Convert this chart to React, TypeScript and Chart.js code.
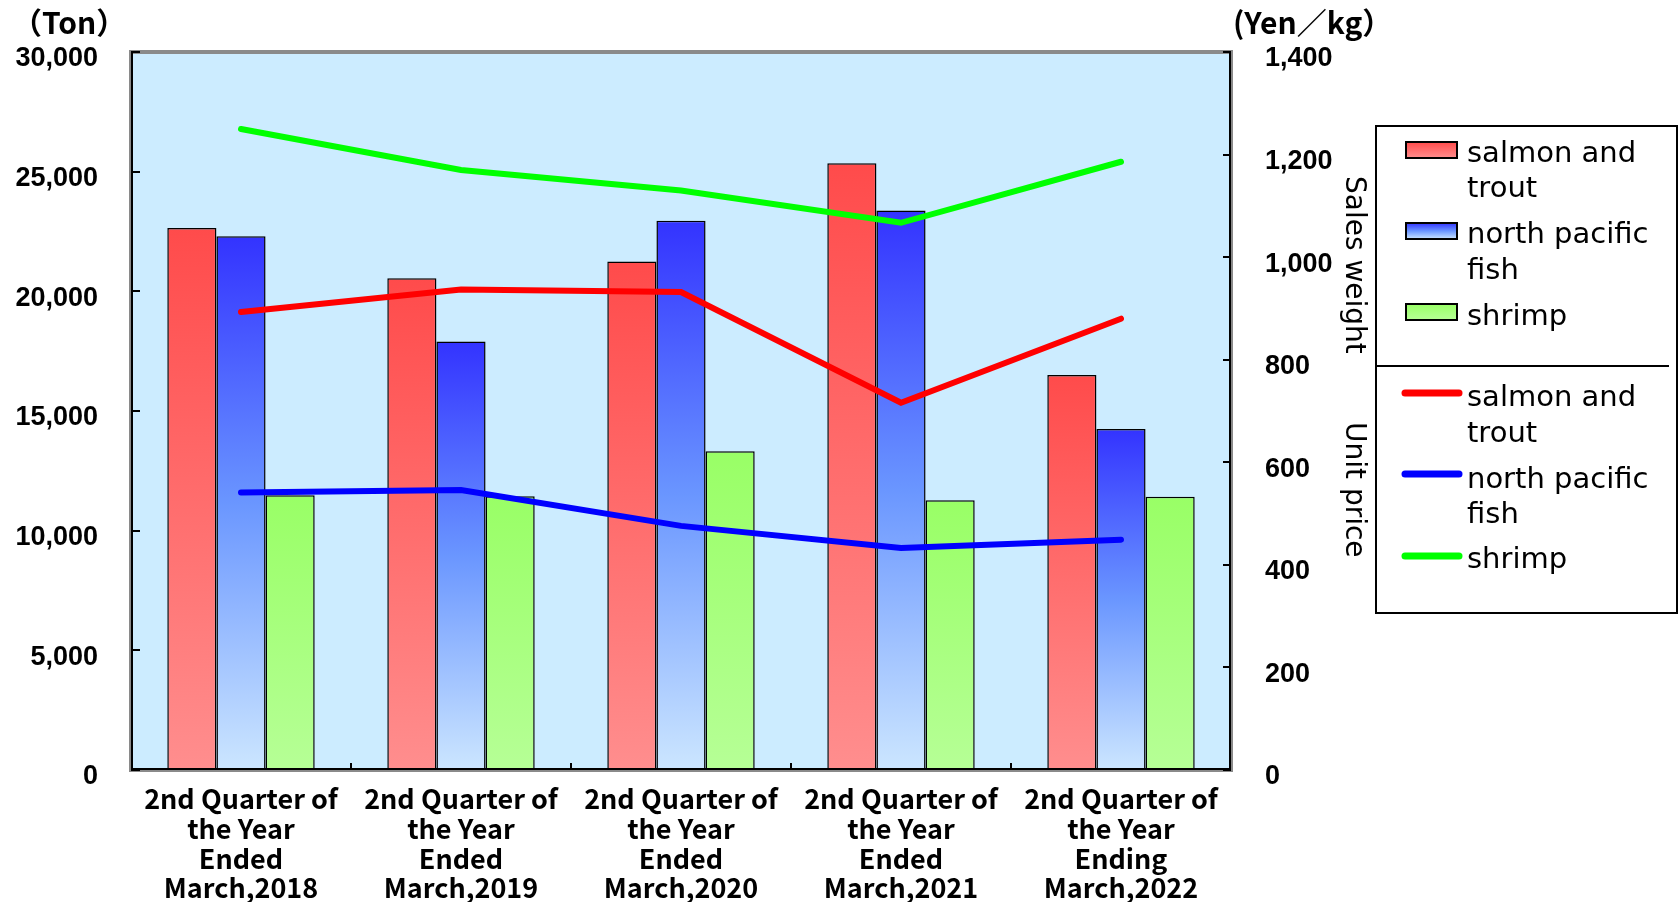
import React, { useEffect, useRef } from "react";
import { Chart, registerables } from "chart.js";
Chart.register(...registerables);

const categories: string[][] = [
  ["2nd Quarter of", "the Year", "Ended", "March,2018"],
  ["2nd Quarter of", "the Year", "Ended", "March,2019"],
  ["2nd Quarter of", "the Year", "Ended", "March,2020"],
  ["2nd Quarter of", "the Year", "Ended", "March,2021"],
  ["2nd Quarter of", "the Year", "Ending", "March,2022"],
];
const seriesNames = ["salmon and trout", "north pacific fish", "shrimp"];
const legendLines: string[][] = [["salmon and", "trout"], ["north pacific", "fish"], ["shrimp"]];

// Sales weight (Ton) - bars, left axis
const weightSalmon = [22650, 20550, 21250, 25350, 16500];
const weightNorthPacific = [22300, 17900, 22950, 23380, 14250];
const weightShrimp = [11480, 11440, 13320, 11270, 11420];

// Unit price (Yen/kg) - lines, right axis
const priceSalmon = [893, 937, 932, 716, 880];
const priceNorthPacific = [541, 546, 476, 433, 449];
const priceShrimp = [1250, 1170, 1130, 1067, 1186];

const leftAxisTitle = "（Ton）";
const rightAxisTitle = "(Yen／kg）";
const rightLabelA = "Sales weight";
const rightLabelB = "Unit price";

const redStops: [number, string][] = [[0, "#FF4B4B"], [1, "#FF8E8E"]];
const blueStops: [number, string][] = [[0, "#3333FF"], [0.5, "#6A96FF"], [1, "#CCE6FF"]];
const greenStops: [number, string][] = [[0, "#99FF66"], [1, "#B6FF96"]];
const lineColors = ["#FF0000", "#0000FF", "#00FF00"];

function barGradient(stops: [number, string][]) {
  return (c: any) => {
    const chart = c.chart;
    if (!chart.chartArea || c.type !== "data") return stops[0][1];
    const y = chart.scales.y;
    const top = y.getPixelForValue(c.raw as number);
    const bottom = y.getPixelForValue(0);
    const g = chart.ctx.createLinearGradient(0, top, 0, bottom);
    stops.forEach(([o, col]) => g.addColorStop(o, col));
    return g;
  };
}

const decorPlugin = {
  id: "decor",
  beforeDraw(chart: any) {
    const { ctx, chartArea: a } = chart;
    ctx.save();
    ctx.fillStyle = "#CCECFF";
    ctx.fillRect(a.left, a.top, a.right - a.left, a.bottom - a.top);
    ctx.restore();
  },
  afterDatasetsDraw(chart: any) {
    const { ctx, chartArea: a } = chart;
    ctx.save();
    ctx.strokeStyle = "#8A8A8A";
    ctx.lineWidth = 4;
    ctx.strokeRect(a.left, a.top, a.right - a.left, a.bottom - a.top);
    ctx.strokeStyle = "#000";
    ctx.lineWidth = 2;
    ctx.beginPath();
    ctx.moveTo(a.left + 1, a.top);
    ctx.lineTo(a.left + 1, a.bottom - 1);
    ctx.lineTo(a.right - 1, a.bottom - 1);
    ctx.lineTo(a.right - 1, a.top);
    ctx.stroke();
    const y = chart.scales.y;
    const y1 = chart.scales.y1;
    ctx.lineWidth = 2;
    ctx.beginPath();
    y.ticks.forEach((t: any) => {
      const py = Math.round(y.getPixelForValue(t.value));
      ctx.moveTo(a.left, py);
      ctx.lineTo(a.left + 9, py);
    });
    y1.ticks.forEach((t: any) => {
      const py = Math.round(y1.getPixelForValue(t.value));
      ctx.moveTo(a.right - 8, py);
      ctx.lineTo(a.right, py);
    });
    const n = categories.length;
    const cw = (a.right - a.left) / n;
    for (let i = 1; i < n; i++) {
      const px = Math.round(a.left + i * cw);
      ctx.moveTo(px, a.bottom);
      ctx.lineTo(px, a.bottom - 7);
    }
    ctx.stroke();
    ctx.restore();
  },
  afterDraw(chart: any) {
    const { ctx } = chart;
    ctx.save();
    ctx.fillStyle = "#000";
    ctx.font = "bold 30px 'Noto Sans CJK JP'";
    ctx.textBaseline = "middle";
    ctx.textAlign = "left";
    ctx.fillText(leftAxisTitle, 12, 23);
    ctx.fillText(rightAxisTitle, 1233, 23);
    ctx.font = "28px 'DejaVu Sans'";
    ctx.save();
    ctx.translate(1353, 176);
    ctx.rotate(Math.PI / 2);
    ctx.fillText(rightLabelA, 0, 0);
    ctx.restore();
    ctx.save();
    ctx.translate(1353, 422);
    ctx.rotate(Math.PI / 2);
    ctx.fillText(rightLabelB, 0, 0);
    ctx.restore();

    // legend box
    ctx.fillStyle = "#FFFFFF";
    ctx.fillRect(1376, 126, 301, 487);
    ctx.strokeStyle = "#000";
    ctx.lineWidth = 2;
    ctx.strokeRect(1376, 126, 301, 487);
    ctx.beginPath();
    ctx.moveTo(1376, 366);
    ctx.lineTo(1669, 366);
    ctx.stroke();

    const boxTops = [142, 223, 304];
    const stopsArr = [redStops, blueStops, greenStops];
    const barBaselines = [[162, 197], [243, 279], [325]];
    stopsArr.forEach((stops, i) => {
      const t = boxTops[i];
      const g = ctx.createLinearGradient(0, t, 0, t + 16);
      stops.forEach(([o, c]) => g.addColorStop(o, c));
      ctx.fillStyle = g;
      ctx.fillRect(1406, t, 51, 16);
      ctx.strokeStyle = "#000";
      ctx.lineWidth = 2;
      ctx.strokeRect(1406, t, 51, 16);
    });
    ctx.fillStyle = "#000";
    ctx.font = "29px 'DejaVu Sans'";
    ctx.textBaseline = "alphabetic";
    legendLines.forEach((lines, i) => {
      lines.forEach((s, j) => ctx.fillText(s, 1467, barBaselines[i][j]));
    });
    const lineYs = [393, 474, 556];
    const lineBaselines = [[406, 442], [488, 523], [568]];
    lineColors.forEach((c, i) => {
      ctx.strokeStyle = c;
      ctx.lineWidth = 7;
      ctx.lineCap = "round";
      ctx.beginPath();
      ctx.moveTo(1405, lineYs[i]);
      ctx.lineTo(1459, lineYs[i]);
      ctx.stroke();
    });
    ctx.fillStyle = "#000";
    legendLines.forEach((lines, i) => {
      lines.forEach((s, j) => ctx.fillText(s, 1467, lineBaselines[i][j]));
    });
    ctx.restore();
  },
};

export default function App() {
  const ref = useRef<HTMLCanvasElement | null>(null);
  useEffect(() => {
    document.body.style.margin = "0";
    const canvas = ref.current!;
    const tickFont = { family: "'Liberation Sans', Arial, sans-serif", weight: "bold" as const, size: 27 };
    const chart = new Chart(canvas, {
      type: "bar",
      data: {
        labels: categories as any,
        datasets: [
          { type: "bar", label: seriesNames[0], data: weightSalmon, yAxisID: "y", backgroundColor: barGradient(redStops) as any, borderColor: "#000", borderWidth: 1.5, order: 2 },
          { type: "bar", label: seriesNames[1], data: weightNorthPacific, yAxisID: "y", backgroundColor: barGradient(blueStops) as any, borderColor: "#000", borderWidth: 1.5, order: 2 },
          { type: "bar", label: seriesNames[2], data: weightShrimp, yAxisID: "y", backgroundColor: barGradient(greenStops) as any, borderColor: "#000", borderWidth: 1.5, order: 2 },
          { type: "line", label: seriesNames[0], data: priceSalmon, yAxisID: "y1", borderColor: lineColors[0], borderWidth: 6, pointRadius: 0, borderCapStyle: "round", tension: 0, order: 1 } as any,
          { type: "line", label: seriesNames[1], data: priceNorthPacific, yAxisID: "y1", borderColor: lineColors[1], borderWidth: 6, pointRadius: 0, borderCapStyle: "round", tension: 0, order: 1 } as any,
          { type: "line", label: seriesNames[2], data: priceShrimp, yAxisID: "y1", borderColor: lineColors[2], borderWidth: 6, pointRadius: 0, borderCapStyle: "round", tension: 0, order: 1 } as any,
        ],
      },
      options: {
        responsive: false,
        animation: false,
        layout: { padding: { top: 52, left: 0, right: 0, bottom: 0 } },
        datasets: { bar: { categoryPercentage: 0.67, barPercentage: 1 } },
        plugins: { legend: { display: false }, tooltip: { enabled: false } },
        scales: {
          x: {
            grid: { display: false, drawTicks: false },
            border: { display: false },
            ticks: {
              color: "#000",
              font: { family: "'Noto Sans CJK JP'", weight: "bold", size: 27, lineHeight: 1.1 },
              padding: 14,
              maxRotation: 0,
              autoSkip: false,
            },
            afterFit: (s: any) => { s.height = 132; },
          },
          y: {
            position: "left",
            min: 0,
            max: 30000,
            grid: { display: false, drawTicks: false },
            border: { display: false },
            ticks: { stepSize: 5000, padding: 33, labelOffset: 7, color: "#000", font: tickFont, callback: (v: any) => Number(v).toLocaleString("en-US") },
            afterFit: (s: any) => { s.width = 131; },
          },
          y1: {
            position: "right",
            min: 0,
            max: 1400,
            grid: { display: false, drawTicks: false },
            border: { display: false },
            ticks: { stepSize: 200, padding: 34, labelOffset: 7, color: "#000", font: tickFont, callback: (v: any) => Number(v).toLocaleString("en-US") },
            afterFit: (s: any) => { s.width = 447; },
          },
        },
      } as any,
      plugins: [decorPlugin],
    });
    return () => chart.destroy();
  }, []);
  return <canvas ref={ref} width={1678} height={902} style={{ display: "block" }} />;
}
